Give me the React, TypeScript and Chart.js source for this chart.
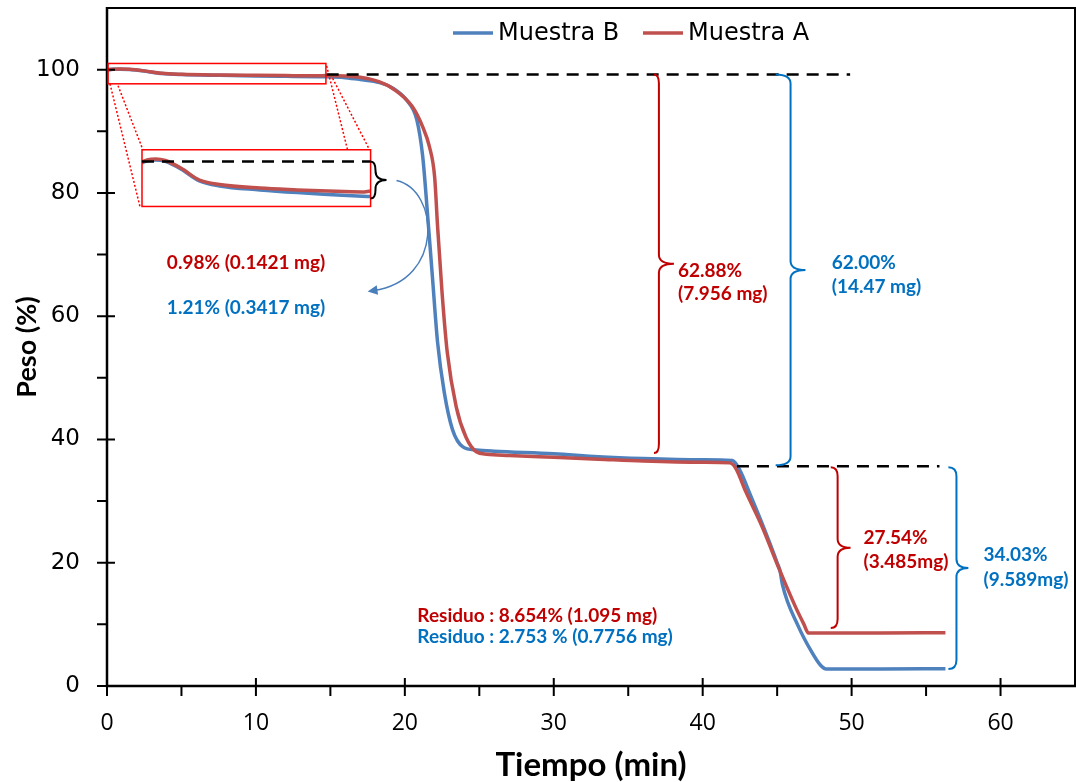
import React, { useEffect, useRef } from 'react';
import { Chart, registerables } from 'chart.js';

Chart.register(...registerables);

// ---- Data ----
const seriesNames = ['Muestra B', 'Muestra A'];

const timeB = [0, 0.4, 0.9, 1.5, 2.5, 3.7, 5, 7.6, 10, 12, 14.2, 14.7, 16, 17, 18.3, 19.2, 20.1, 20.8, 21.2, 21.5, 21.85, 22.2, 22.65, 23.2, 23.9, 24.8, 26, 30, 33, 36, 40, 42.0, 42.5, 43.2, 44.0, 45.0, 45.2, 45.35, 46.4, 47.3, 47.9, 48.3, 52, 56.3];
const pesoB = [99.97, 100.05, 100.07, 100.02, 99.77, 99.37, 99.2, 99.07, 98.98, 98.92, 98.86, 98.85, 98.7, 98.4, 97.9, 97.0, 95.1, 91.9, 85.9, 77.3, 66.4, 55.7, 47.6, 41.6, 38.8, 38.3, 38.1, 37.7, 37.2, 36.9, 36.7, 36.6, 35.0, 31.0, 26.3, 20.0, 18.6, 16.5, 9.8, 5.6, 3.4, 2.75, 2.75, 2.8];

const timeA = [0, 0.4, 0.9, 1.5, 2.5, 3.7, 5, 7.6, 10, 12, 14.2, 14.7, 16, 17, 18.3, 19.2, 20.5, 21.2, 21.65, 22.0, 22.2, 22.5, 22.85, 23.45, 24.1, 24.8, 25.5, 27, 30, 33, 36, 40, 41.8, 42.2, 42.9, 44, 45.1, 46.2, 46.8, 47.1, 48, 52, 56.3];
const pesoA = [100.0, 100.08, 100.1, 100.05, 99.8, 99.4, 99.25, 99.13, 99.07, 99.03, 99.0, 99.03, 98.95, 98.75, 98.0, 96.9, 94.0, 90.7, 87.5, 82.6, 74.5, 63.8, 54.1, 45.3, 40.4, 38.0, 37.6, 37.4, 37.1, 36.8, 36.5, 36.3, 36.2, 35.4, 31.5, 25.8, 19.2, 13.0, 10.0, 8.6, 8.6, 8.6, 8.65];

const insetEnd = 14.7;
const xMajorTicks = [0, 10, 20, 30, 40, 50, 60];
const xMinorTicks = [5, 15, 25, 35, 45, 55];
const yMajorTicks = [0, 20, 40, 60, 80, 100];
const yMinorTicks = [10, 30, 50, 70, 90];

const BLUE = '#4F81BD';
const RED = '#C0504D';
const TXT_RED = '#C00000';
const TXT_BLUE = '#0070C0';

// annotation anchors, in data units (t: min, w: %)
const braces = [
  { color: TXT_RED, t0: 36.73, tm: 37.06, tt: 38.07, wTop: 99.2, wBot: 37.8 },
  { color: TXT_BLUE, t0: 44.9, tm: 45.9, tt: 46.9, wTop: 99.2, wBot: 35.8 },
  { color: TXT_RED, t0: 48.6, tm: 49.06, tt: 49.93, wTop: 35.5, wBot: 9.4 },
  { color: TXT_BLUE, t0: 56.5, tm: 57.04, tt: 57.84, wTop: 35.5, wBot: 2.75 },
  { color: '#000000', t0: 17.7, tm: 18.03, tt: 18.77, wTop: 85.1, wBot: 79.1 },
];
const dashedLines = [
  { t0: 14.75, t1: 49.9, w: 99.2 },
  { t0: 42.3, t1: 55.9, w: 35.66 },
  { t0: 2.35, t1: 17.7, w: 85.1 },
];
const labels = [
  { text: '62.88%', t: 38.34, w: 67.4, color: TXT_RED },
  { text: '(7.956 mg)', t: 38.34, w: 63.7, color: TXT_RED },
  { text: '62.00%', t: 48.66, w: 68.7, color: TXT_BLUE },
  { text: '(14.47 mg)', t: 48.66, w: 64.7, color: TXT_BLUE },
  { text: '27.54%', t: 50.8, w: 24.1, color: TXT_RED },
  { text: '(3.485mg)', t: 50.8, w: 20.1, color: TXT_RED },
  { text: '34.03%', t: 58.85, w: 21.2, color: TXT_BLUE },
  { text: '(9.589mg)', t: 58.85, w: 17.2, color: TXT_BLUE },
  { text: 'Residuo : 8.654% (1.095 mg)', t: 20.84, w: 11.4, color: TXT_RED },
  { text: 'Residuo : 2.753 % (0.7756 mg)', t: 20.84, w: 7.9, color: TXT_BLUE },
  { text: '0.98% (0.1421 mg)', t: 4.02, w: 68.7, color: TXT_RED },
  { text: '1.21% (0.3417 mg)', t: 4.02, w: 61.3, color: TXT_BLUE },
];
const zoomRect = { t0: 0.07, t1: 14.7, w0: 101.0, w1: 97.7 };
const insetRect = { t0: 2.35, t1: 17.7, w0: 87.0, w1: 77.8 };
const dottedLines = [
  { a: [0.2, 97.7], b: [2.21, 77.8] },
  { a: [0.74, 97.4], b: [2.41, 87.0] },
  { a: [14.75, 100.6], b: [16.15, 87.0] },
  { a: [15.15, 98.6], b: [17.63, 87.0] },
];
const arrowArc = { s: [19.44, 82.0], c1: [22.32, 80.4], c2: [22.65, 65.8], e: [17.5, 64.0] };

const annotPlugin = {
  id: 'annot',
  afterDatasetsDraw(chart: any) {
    const ctx = chart.ctx as CanvasRenderingContext2D;
    const xs = chart.scales.x;
    const ys = chart.scales.y;
    const px = (t: number) => xs.getPixelForValue(t);
    const py = (w: number) => ys.getPixelForValue(w);
    const { left, right, top, bottom } = chart.chartArea;
    ctx.save();

    // frame
    ctx.strokeStyle = '#000';
    ctx.lineWidth = 2;
    ctx.beginPath();
    ctx.moveTo(left, top);
    ctx.lineTo(right, top);
    ctx.lineTo(right, bottom);
    ctx.stroke();
    ctx.lineWidth = 2.5;
    ctx.beginPath();
    ctx.moveTo(left, top - 1);
    ctx.lineTo(left, bottom);
    ctx.lineTo(right + 1, bottom);
    ctx.stroke();
    // ticks
    ctx.lineWidth = 2;
    ctx.beginPath();
    xMajorTicks.forEach((t) => { const x = px(t); ctx.moveTo(x, bottom - 8); ctx.lineTo(x, bottom + 10); });
    xMinorTicks.forEach((t) => { const x = px(t); ctx.moveTo(x, bottom); ctx.lineTo(x, bottom + 10); });
    yMajorTicks.forEach((w) => { const y = py(w); ctx.moveTo(left - 10, y); ctx.lineTo(left + 8, y); });
    yMinorTicks.forEach((w) => { const y = py(w); ctx.moveTo(left - 10, y); ctx.lineTo(left, y); });
    ctx.stroke();

    // zoom rectangles and dotted connectors
    ctx.strokeStyle = '#FF0000';
    ctx.lineWidth = 1.5;
    ctx.strokeRect(px(zoomRect.t0), py(zoomRect.w0), px(zoomRect.t1) - px(zoomRect.t0), py(zoomRect.w1) - py(zoomRect.w0));
    ctx.strokeRect(px(insetRect.t0), py(insetRect.w0), px(insetRect.t1) - px(insetRect.t0), py(insetRect.w1) - py(insetRect.w0));
    ctx.setLineDash([2, 2]);
    ctx.beginPath();
    dottedLines.forEach((l) => { ctx.moveTo(px(l.a[0]), py(l.a[1])); ctx.lineTo(px(l.b[0]), py(l.b[1])); });
    ctx.stroke();

    // dashed reference lines
    ctx.strokeStyle = '#000';
    ctx.lineWidth = 2.5;
    ctx.setLineDash([12, 8]);
    ctx.beginPath();
    dashedLines.forEach((d) => { ctx.moveTo(px(d.t0), py(d.w)); ctx.lineTo(px(d.t1), py(d.w)); });
    ctx.stroke();
    ctx.setLineDash([]);

    // braces
    braces.forEach((b) => {
      const x0 = px(b.t0), xm = px(b.tm), xt = px(b.tt);
      const y0 = py(b.wTop), y1 = py(b.wBot);
      const ym = (y0 + y1) / 2;
      const r = Math.min(9, (y1 - y0) / 4);
      ctx.strokeStyle = b.color;
      ctx.lineWidth = 2;
      ctx.beginPath();
      ctx.moveTo(x0, y0);
      ctx.quadraticCurveTo(xm, y0, xm, y0 + r);
      ctx.lineTo(xm, ym - r);
      ctx.quadraticCurveTo(xm, ym, xt, ym);
      ctx.quadraticCurveTo(xm, ym, xm, ym + r);
      ctx.lineTo(xm, y1 - r);
      ctx.quadraticCurveTo(xm, y1, x0, y1);
      ctx.stroke();
    });

    // curved arrow
    ctx.strokeStyle = '#4A7EBB';
    ctx.fillStyle = '#4A7EBB';
    ctx.lineWidth = 1.5;
    const sx = px(arrowArc.s[0]), sy = py(arrowArc.s[1]);
    const c1x = px(arrowArc.c1[0]), c1y = py(arrowArc.c1[1]);
    const c2x = px(arrowArc.c2[0]), c2y = py(arrowArc.c2[1]);
    const ex = px(arrowArc.e[0]), ey = py(arrowArc.e[1]);
    ctx.beginPath();
    ctx.moveTo(sx, sy);
    ctx.bezierCurveTo(c1x, c1y, c2x, c2y, ex + 6, ey - 1);
    ctx.stroke();
    const ang = Math.atan2(ey - c2y, ex - c2x);
    ctx.beginPath();
    ctx.moveTo(ex, ey);
    ctx.lineTo(ex - 11 * Math.cos(ang - 0.45), ey - 11 * Math.sin(ang - 0.45));
    ctx.lineTo(ex - 11 * Math.cos(ang + 0.45), ey - 11 * Math.sin(ang + 0.45));
    ctx.closePath();
    ctx.fill();

    // text labels
    ctx.textAlign = 'left';
    ctx.textBaseline = 'middle';
    labels.forEach((l) => {
      ctx.font = 'bold 19px Lato';
      ctx.fillStyle = l.color;
      ctx.fillText(l.text, px(l.t), py(l.w));
    });

    // legend
    const legendColors = [BLUE, RED];
    const legendX = [453, 643];
    ctx.font = '24px "DejaVu Sans"';
    ctx.fillStyle = '#000';
    seriesNames.forEach((name, i) => {
      ctx.strokeStyle = legendColors[i];
      ctx.lineWidth = 3.5;
      ctx.beginPath();
      ctx.moveTo(legendX[i], 33);
      ctx.lineTo(legendX[i] + 40, 33);
      ctx.stroke();
      ctx.fillText(name, legendX[i] + 45, 34);
    });
    ctx.restore();
  },
};

export default function App() {
  const ref = useRef<HTMLCanvasElement | null>(null);
  useEffect(() => {
    if (!ref.current) return;
    const pts = (ts: number[], ws: number[]) => ts.map((t, i) => ({ x: t, y: ws[i] }));
    const insetPts = (ts: number[], ws: number[]) => pts(ts, ws).filter((p) => p.x <= insetEnd);
    const common = { pointRadius: 0, borderWidth: 3.5, cubicInterpolationMode: 'monotone' as const, fill: false };
    const chart = new Chart(ref.current, {
      type: 'line',
      data: {
        datasets: [
          { ...common, label: seriesNames[0], data: pts(timeB, pesoB), borderColor: BLUE, order: 1, xAxisID: 'x', yAxisID: 'y' },
          { ...common, label: seriesNames[1], data: pts(timeA, pesoA), borderColor: RED, order: 0, xAxisID: 'x', yAxisID: 'y' },
          { ...common, label: seriesNames[0] + ' (detalle)', data: insetPts(timeB, pesoB), borderColor: BLUE, order: 1, xAxisID: 'x2', yAxisID: 'y2' },
          { ...common, label: seriesNames[1] + ' (detalle)', data: insetPts(timeA, pesoA), borderColor: RED, order: 0, xAxisID: 'x2', yAxisID: 'y2' },
        ],
      },
      options: {
        responsive: false,
        animation: false,
        events: [],
        layout: { padding: { top: 8, right: 1, left: 0, bottom: 0 } },
        plugins: { legend: { display: false }, tooltip: { enabled: false } },
        scales: {
          x: {
            type: 'linear', min: 0, max: 65,
            afterFit: (s: any) => { s.height = 96; s.paddingLeft = 0; s.paddingRight = 0; },
            grid: { display: false, drawTicks: false },
            border: { display: false },
            ticks: {
              stepSize: 10, includeBounds: false, padding: 24, color: '#000', maxRotation: 0, autoSkip: false,
              font: { family: 'Open Sans', size: 23 },
              callback: (v: any) => (Number(v) % 10 === 0 ? String(v) : ''),
            },
            title: { display: true, text: 'Tiempo (min)', color: '#000', font: { family: 'Lato', size: 33, weight: 'bold', lineHeight: 1 }, padding: { top: 0, bottom: 0 } },
          },
          y: {
            type: 'linear', min: 0, max: 110,
            afterFit: (s: any) => { s.width = 107; s.paddingTop = 0; s.paddingBottom = 0; },
            grid: { display: false, drawTicks: false },
            border: { display: false },
            ticks: {
              stepSize: 20, includeBounds: false, padding: 27, color: '#000',
              font: { family: 'DejaVu Sans', size: 23 },
              callback: (v: any) => (Number(v) <= 100 ? String(v) : ''),
            },
            title: { display: true, text: 'Peso (%)', color: '#000', font: { family: 'Lato', size: 27, weight: 'bold', lineHeight: 1 }, padding: { top: 14, bottom: 0 } },
          },
          x2: { type: 'linear', display: false, min: -2.257, max: 60.16 },
          y2: { type: 'linear', display: false, min: 82.533, max: 105.133 },
        },
      },
      plugins: [annotPlugin],
    });
    return () => chart.destroy();
  }, []);
  return (
    <div style={{ position: 'absolute', left: 0, top: 0, width: 1076, height: 782, background: '#fff' }}>
      <canvas ref={ref} width={1076} height={782} style={{ display: 'block' }} />
    </div>
  );
}
